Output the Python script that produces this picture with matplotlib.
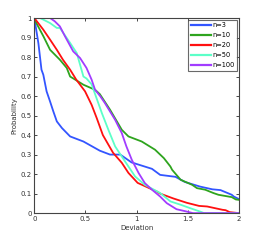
import numpy as np
import matplotlib
matplotlib.use('Agg')
from matplotlib import pyplot as plt

# deviation / probability curves
x3 = [0, 0.04, 0.07, 0.088, 0.12, 0.154, 0.186, 0.22, 0.27, 0.35, 0.48, 0.64, 0.74, 0.84, 0.95,
      1.15, 1.23, 1.38, 1.47, 1.62, 1.74, 1.82, 1.93, 1.95, 2.0]
y3 = [1.0, 0.87, 0.735, 0.709, 0.624, 0.572, 0.521, 0.47, 0.436, 0.393, 0.367, 0.32, 0.30, 0.30, 0.26,
      0.227, 0.196, 0.186, 0.16, 0.136, 0.122, 0.118, 0.094, 0.085, 0.072]

x10 = [0, 0.02, 0.09, 0.154, 0.25, 0.317, 0.35, 0.40, 0.48, 0.594, 0.64, 0.74, 0.855, 0.92, 1.05,
       1.18, 1.266, 1.33, 1.347, 1.43, 1.543, 1.59, 1.67, 1.75, 1.80, 1.93, 1.97, 2.0]
y10 = [1.0, 0.974, 0.905, 0.837, 0.786, 0.744, 0.70, 0.684, 0.658, 0.632, 0.61, 0.53, 0.427, 0.393, 0.367,
       0.325, 0.282, 0.239, 0.222, 0.171, 0.145, 0.128, 0.12, 0.103, 0.094, 0.082, 0.07, 0.068]

x20 = [0, 0.088, 0.154, 0.22, 0.28, 0.35, 0.41, 0.496, 0.56, 0.61, 0.67, 0.77, 0.855, 0.92, 1.01,
       1.2, 1.23, 1.36, 1.49, 1.61, 1.69, 1.84, 1.87, 1.91, 2.0]
y20 = [1.0, 0.94, 0.889, 0.837, 0.786, 0.735, 0.684, 0.624, 0.555, 0.487, 0.40, 0.309, 0.258, 0.206, 0.155,
       0.11, 0.10, 0.075, 0.053, 0.037, 0.034, 0.017, 0.015, 0.005, 0.0]

x50 = [0, 0.056, 0.154, 0.22, 0.25, 0.35, 0.415, 0.48, 0.51, 0.56, 0.594, 0.66, 0.724, 0.79, 0.855,
       0.92, 0.985, 1.08, 1.23, 1.33, 1.43, 1.52, 1.62, 1.66, 2.0]
y50 = [1.0, 1.0, 0.974, 0.949, 0.949, 0.872, 0.82, 0.70, 0.69, 0.66, 0.61, 0.513, 0.427, 0.342, 0.29,
       0.239, 0.188, 0.145, 0.103, 0.06, 0.043, 0.026, 0.008, 0.0, 0.0]

x100 = [0, 0.154, 0.2, 0.25, 0.3, 0.38, 0.447, 0.51, 0.56, 0.594, 0.643, 0.69, 0.79, 0.855, 0.90,
        0.953, 1.02, 1.08, 1.15, 1.23, 1.295, 1.39, 1.49, 1.55, 2.0]
y100 = [1.0, 1.0, 0.983, 0.957, 0.906, 0.829, 0.795, 0.744, 0.684, 0.632, 0.60, 0.564, 0.478, 0.41, 0.342,
        0.273, 0.205, 0.154, 0.12, 0.085, 0.051, 0.02, 0.008, 0.0, 0.0]

labels = ['n=3', 'n=10', 'n=20', 'n=50', 'n=100']
colors = ['#3355ff', '#2ea41e', '#ff1010', '#5cffc8', '#a23cff']

fig = plt.figure(figsize=(2.64, 2.4), dpi=100)
ax = fig.add_axes([0.13, 0.112, 0.775, 0.813])

for xs, ys, lab, c in zip([x3, x10, x20, x50, x100], [y3, y10, y20, y50, y100], labels, colors):
    ax.plot(xs, ys, color=c, lw=1.3, label=lab)

ax.set_xlim(0, 2)
ax.set_ylim(0, 1)
ax.set_xticks([0, 0.5, 1, 1.5, 2])
ax.set_xticklabels(['0', '0.5', '1', '1.5', '2'])
ax.set_yticks(np.arange(0, 1.01, 0.1))
ax.set_yticklabels(['0', '0.1', '0.2', '0.3', '0.4', '0.5', '0.6', '0.7', '0.8', '0.9', '1'])
ax.tick_params(direction='in', top=True, right=True, labelsize=5, length=2, width=0.5, pad=2,
               labelcolor='#333333')
for s in ax.spines.values():
    s.set_linewidth(0.8)
    s.set_color('#444444')
ax.set_xlabel('Deviation', fontsize=5, labelpad=2, color='#333333')
ax.set_ylabel('Probability', fontsize=5, labelpad=2, color='#333333')

leg = ax.legend(loc='upper right', fontsize=4.8, frameon=True, fancybox=False,
                handlelength=3.0, handletextpad=0.2, labelspacing=0.6,
                borderpad=0.4, borderaxespad=0.25)
leg.get_frame().set_edgecolor('#444444')
leg.get_frame().set_linewidth(0.8)
for l in leg.get_lines():
    l.set_linewidth(1.6)

fig.savefig('out.png', dpi=100)
